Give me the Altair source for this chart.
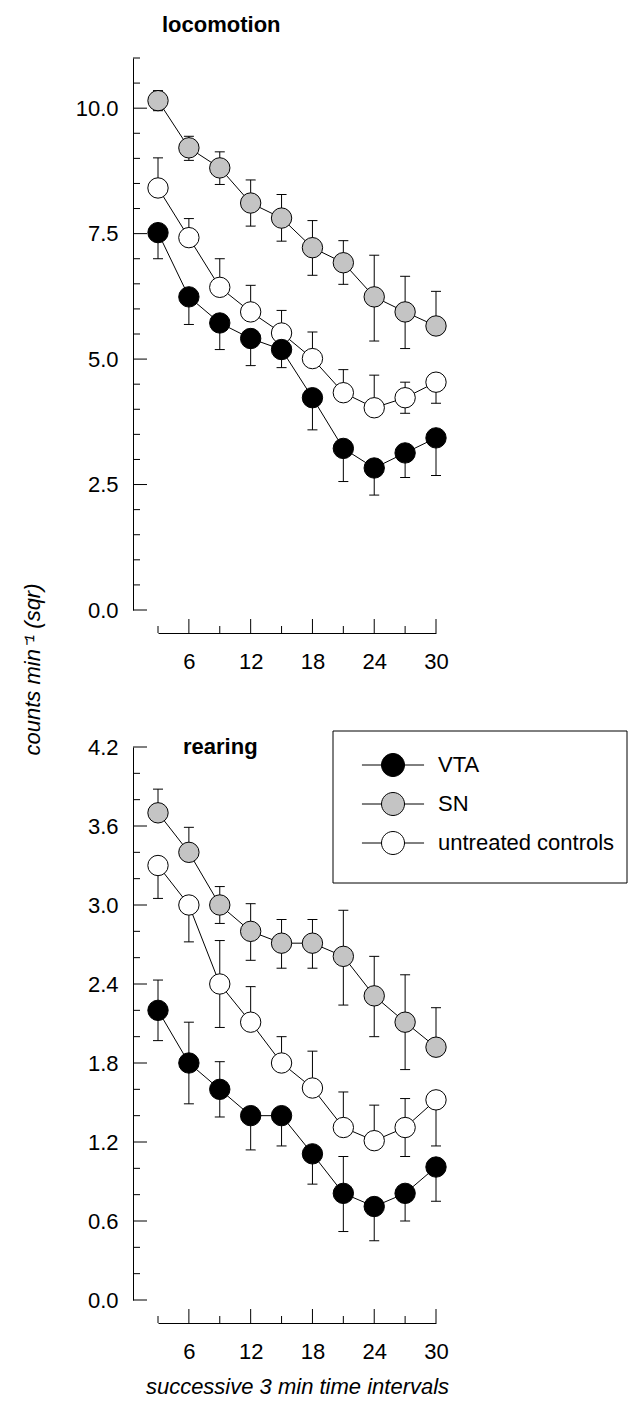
import altair as alt
import pandas as pd

FONT = "Liberation Sans"

# ---------------- data ----------------
intervals = [3, 6, 9, 12, 15, 18, 21, 24, 27, 30]
groups = ["VTA", "SN", "untreated controls"]
fills = ["#000000", "#c4c4c4", "#ffffff"]
draw_order = ["untreated controls", "SN", "VTA"]

# locomotion (counts min^-1, sqr)
loco_vta_mean = [7.52, 6.24, 5.72, 5.41, 5.19, 4.23, 3.22, 2.83, 3.13, 3.43]
loco_vta_hi = [7.52, 6.24, 5.72, 5.41, 5.19, 4.23, 3.22, 2.83, 3.13, 3.43]
loco_vta_lo = [7.00, 5.69, 5.19, 4.87, 4.83, 3.59, 2.56, 2.29, 2.64, 2.68]

loco_sn_mean = [10.15, 9.21, 8.81, 8.11, 7.81, 7.22, 6.92, 6.24, 5.94, 5.66]
loco_sn_hi = [10.35, 9.44, 9.13, 8.57, 8.28, 7.76, 7.36, 7.07, 6.65, 6.35]
loco_sn_lo = [9.95, 8.96, 8.48, 7.65, 7.35, 6.67, 6.49, 5.36, 5.21, 5.66]

loco_ctl_mean = [8.41, 7.42, 6.43, 5.94, 5.52, 5.01, 4.33, 4.03, 4.23, 4.54]
loco_ctl_hi = [9.01, 7.80, 7.00, 6.47, 5.97, 5.54, 4.79, 4.68, 4.54, 4.54]
loco_ctl_lo = [8.41, 7.42, 6.43, 5.94, 5.52, 5.01, 4.33, 4.03, 3.92, 4.12]

# rearing
rear_vta_mean = [2.20, 1.80, 1.60, 1.40, 1.40, 1.11, 0.81, 0.71, 0.81, 1.01]
rear_vta_hi = [2.43, 2.11, 1.81, 1.40, 1.40, 1.11, 1.09, 0.71, 0.81, 1.01]
rear_vta_lo = [1.97, 1.49, 1.39, 1.14, 1.17, 0.88, 0.52, 0.45, 0.60, 0.75]

rear_sn_mean = [3.70, 3.40, 3.00, 2.80, 2.71, 2.71, 2.61, 2.31, 2.11, 1.92]
rear_sn_hi = [3.88, 3.59, 3.14, 3.01, 2.89, 2.89, 2.96, 2.61, 2.47, 2.22]
rear_sn_lo = [3.70, 3.40, 2.86, 2.58, 2.52, 2.52, 2.24, 2.00, 1.75, 1.92]

rear_ctl_mean = [3.30, 3.00, 2.40, 2.11, 1.80, 1.61, 1.31, 1.21, 1.31, 1.52]
rear_ctl_hi = [3.30, 3.00, 2.73, 2.38, 2.00, 1.89, 1.58, 1.48, 1.53, 1.52]
rear_ctl_lo = [3.05, 2.72, 2.07, 2.11, 1.80, 1.61, 1.31, 1.21, 1.09, 1.17]

# axis ticks
x_major = [6, 12, 18, 24, 30]
x_minor = [3, 9, 15, 21, 27]
loco_y_major = [0.0, 2.5, 5.0, 7.5, 10.0]
loco_y_minor = [0.5, 1.0, 1.5, 2.0, 3.0, 3.5, 4.0, 4.5, 5.5, 6.0, 6.5, 7.0,
                8.0, 8.5, 9.0, 9.5, 10.5, 11.0]
rear_y_major = [0.0, 0.6, 1.2, 1.8, 2.4, 3.0, 3.6, 4.2]
rear_y_minor = [0.2, 0.4, 0.8, 1.0, 1.4, 1.6, 2.0, 2.2, 2.6, 2.8, 3.2, 3.4,
                3.8, 4.0]


def build(series):
    rows = []
    for g in draw_order:
        mean, lo, hi = series[g]
        for i, x in enumerate(intervals):
            rows.append({"group": g, "x": x, "mean": mean[i], "lo": lo[i],
                         "hi": hi[i], "k": draw_order.index(g) * 100 + i})
    return pd.DataFrame(rows)


loco_df = build({
    "VTA": (loco_vta_mean, loco_vta_lo, loco_vta_hi),
    "SN": (loco_sn_mean, loco_sn_lo, loco_sn_hi),
    "untreated controls": (loco_ctl_mean, loco_ctl_lo, loco_ctl_hi),
})
rear_df = build({
    "VTA": (rear_vta_mean, rear_vta_lo, rear_vta_hi),
    "SN": (rear_sn_mean, rear_sn_lo, rear_sn_hi),
    "untreated controls": (rear_ctl_mean, rear_ctl_lo, rear_ctl_hi),
})

W = 320
XRANGE = [25, 303]
AXOFF = 23
LEGEND_PATH = ("M-2.7,0H-1M1,0H2.7M-1,0A1,1,0,1,1,1,0A1,1,0,1,1,-1,0Z")


def panel(df, ymax, H, y_major, y_minor, legend, xtitle, label, label_pos):
    xs = alt.Scale(domain=[3, 30], range=XRANGE)
    ys = alt.Scale(domain=[0, ymax], nice=False, zero=True)
    xaxis_kw = dict(values=x_major, format="d", ticks=False, domain=True,
                    domainColor="black", domainWidth=1, labelFont=FONT,
                    labelFontSize=22, labelColor="black", labelPadding=18,
                    labelFlush=False, offset=AXOFF, grid=False)
    if xtitle:
        xaxis_kw.update(title=xtitle, titleFont=FONT, titleFontSize=22,
                        titleFontStyle="italic", titleFontWeight="normal",
                        titleColor="black", titlePadding=14)
    else:
        xaxis_kw.update(title=None)
    xaxis = alt.Axis(**xaxis_kw)
    yaxis = alt.Axis(values=y_major, format=".1f", ticks=False, domain=True,
                     domainColor="black", domainWidth=1, labelFont=FONT,
                     labelFontSize=22, labelColor="black", labelPadding=15,
                     labelFlush=False, grid=False, title=None)

    def X(f):
        return alt.X(f, scale=xs, axis=xaxis)

    def Y(f):
        return alt.Y(f, scale=ys, axis=yaxis)

    base = alt.Chart(df)
    lines = base.mark_line(color="black", strokeWidth=1).encode(
        x=X("x:Q"), y=Y("mean:Q"), detail="group:N", order="x:Q")
    bars = base.mark_rule(color="black", strokeWidth=1).encode(
        x=X("x:Q"), y=Y("lo:Q"), y2="hi:Q")
    cap_lo = base.mark_tick(orient="horizontal", size=10, thickness=1,
                            color="black", opacity=1).encode(
        x=X("x:Q"), y=Y("lo:Q"))
    cap_hi = base.mark_tick(orient="horizontal", size=10, thickness=1,
                            color="black", opacity=1).encode(
        x=X("x:Q"), y=Y("hi:Q"))
    if legend:
        leg = alt.Legend(orient="none", legendX=248, legendY=6, title=None,
                         symbolType=LEGEND_PATH, symbolSize=529,
                         symbolStrokeColor="black", symbolStrokeWidth=1,
                         labelFont=FONT, labelFontSize=22, labelColor="black",
                         labelOffset=33, labelLimit=400, rowPadding=11,
                         padding=0)
        fill = alt.Fill("group:N", scale=alt.Scale(domain=groups, range=fills),
                        legend=leg)
    else:
        fill = alt.Fill("group:N", scale=alt.Scale(domain=groups, range=fills),
                        legend=None)
    pts = base.mark_point(shape="circle", filled=True, size=415,
                          stroke="black", strokeWidth=1, opacity=1).encode(
        x=X("x:Q"), y=Y("mean:Q"), fill=fill, order="k:Q")

    ymaj = alt.Chart(pd.DataFrame({"t": y_major})).mark_rule(
        color="black", strokeWidth=1).encode(
        y=Y("t:Q"), x=alt.value(0), x2=alt.value(14))
    ymin = alt.Chart(pd.DataFrame({"t": y_minor})).mark_rule(
        color="black", strokeWidth=1).encode(
        y=Y("t:Q"), x=alt.value(0), x2=alt.value(7))
    xmaj = alt.Chart(pd.DataFrame({"t": x_major})).mark_rule(
        color="black", strokeWidth=1).encode(
        x=X("t:Q"), y=alt.value(H + AXOFF), y2=alt.value(H + AXOFF - 14))
    xmin = alt.Chart(pd.DataFrame({"t": x_minor})).mark_rule(
        color="black", strokeWidth=1).encode(
        x=X("t:Q"), y=alt.value(H + AXOFF), y2=alt.value(H + AXOFF - 7))

    txt = alt.Chart(pd.DataFrame({"s": [label]})).mark_text(
        font=FONT, fontSize=22, fontWeight="bold", align="left",
        baseline="alphabetic", color="black").encode(
        text="s:N", x=alt.value(label_pos[0]), y=alt.value(label_pos[1]))

    layers = [lines, bars, cap_lo, cap_hi, pts, ymaj, ymin, xmaj, xmin, txt]
    if legend:
        box = alt.Chart(pd.DataFrame({"s": ["box"]})).mark_rect(
            fill="white", fillOpacity=0, stroke="black",
            strokeWidth=1).encode(
            x=alt.value(200), x2=alt.value(494), y=alt.value(-16),
            y2=alt.value(136))
        layers.insert(0, box)
    return alt.layer(*layers).properties(width=W, height=H)


top = panel(loco_df, 11, 552, loco_y_major, loco_y_minor, False, None,
            "locomotion", (29, -26))
bottom = panel(rear_df, 4.2, 553, rear_y_major, rear_y_minor, True,
               "successive 3 min time intervals", "rearing", (50, 7))

chart = alt.vconcat(
    top, bottom, spacing=137, bounds="flush",
    title=alt.TitleParams(text="counts min\u207b\u00b9 (sqr)", orient="left",
                          anchor="middle", font=FONT, fontSize=22,
                          fontStyle="italic", fontWeight="normal",
                          color="black", offset=30, dx=36),
).resolve_scale(fill="independent").properties(
    padding={"left": 14, "top": 6, "right": 0, "bottom": 0}
).configure_view(stroke=None)

chart.save("out.html", embed_options={"renderer": "svg", "actions": False})
